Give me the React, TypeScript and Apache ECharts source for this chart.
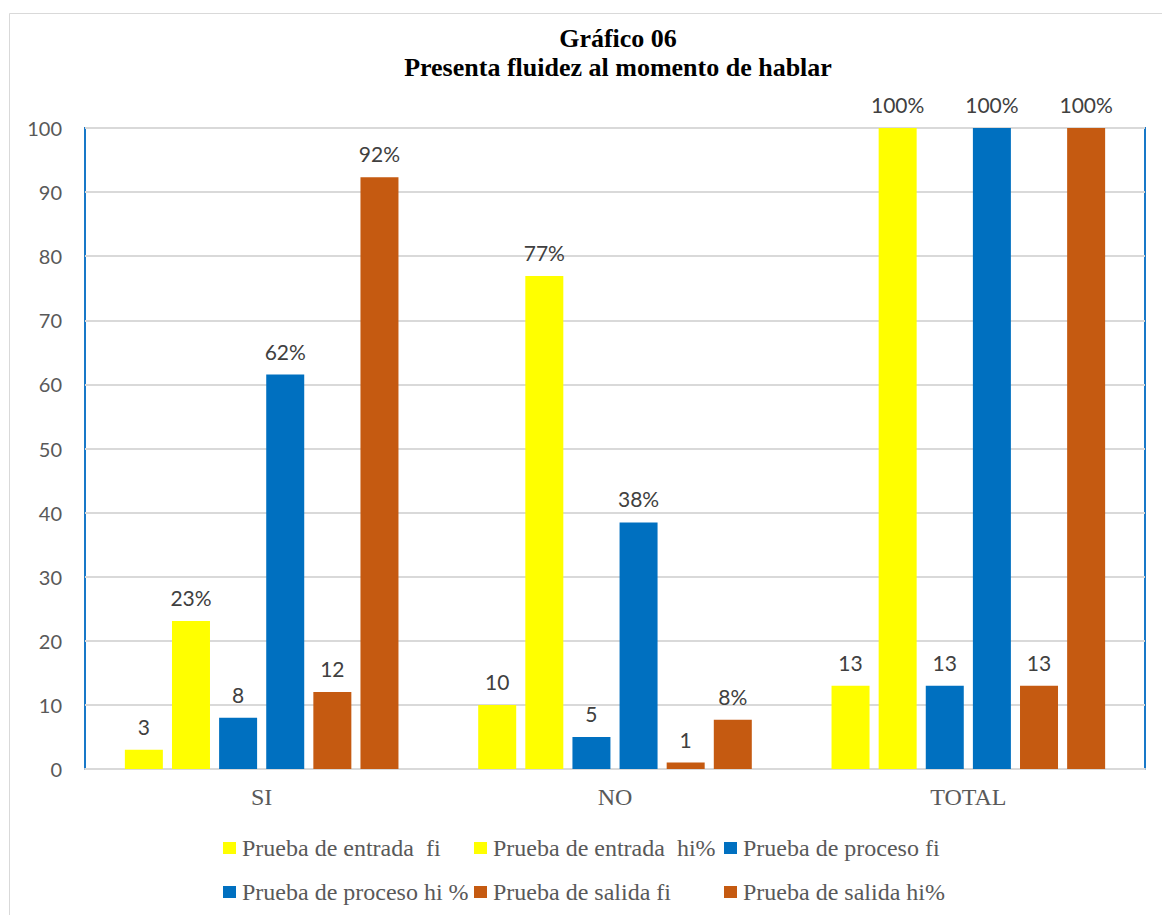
import React, { useEffect, useRef } from "react";
import * as echarts from "echarts";

const categories = ["SI", "NO", "TOTAL"];
const seriesNames = [
  "Prueba de entrada  fi",
  "Prueba de entrada  hi%",
  "Prueba de proceso fi",
  "Prueba de proceso hi %",
  "Prueba de salida fi",
  "Prueba de salida hi%",
];
const entradaFi = [3, 10, 13];
const entradaHi = [23.08, 76.92, 100];
const procesoFi = [8, 5, 13];
const procesoHi = [61.54, 38.46, 100];
const salidaFi = [12, 1, 13];
const salidaHi = [92.31, 7.69, 100];
const yTicks = [0, 10, 20, 30, 40, 50, 60, 70, 80, 90, 100];

const YELLOW = "#FFFF00";
const BLUE = "#0070C0";
const ORANGE = "#C55A11";

export default function App() {
  const ref = useRef<HTMLDivElement>(null);
  useEffect(() => {
    if (!ref.current) return;
    const chart = echarts.init(ref.current, null, { renderer: "svg" });
    const values = [entradaFi, entradaHi, procesoFi, procesoHi, salidaFi, salidaHi];
    const colors = [YELLOW, YELLOW, BLUE, BLUE, ORANGE, ORANGE];
    const isPct = [false, true, false, true, false, true];
    const labelFont = "Lato, 'Open Sans', sans-serif";
    const serif = "'Liberation Serif', 'Times New Roman', serif";
    const series = values.map((v, i) => ({
      name: seriesNames[i],
      type: "bar",
      data: v,
      barWidth: 38,
      barGap: "24%",
      itemStyle: { color: colors[i] },
      label: {
        show: true,
        position: "top",
        distance: 13,
        fontFamily: labelFont,
        fontSize: 21,
        color: "#404040",
        formatter: (p: any) => (isPct[i] ? Math.round(p.value) + "%" : String(p.value)),
      },
    }));
    const legendPos = [
      [223, 836],
      [474, 836],
      [724, 836],
      [223, 880],
      [474, 880],
      [724, 880],
    ];
    const legends = seriesNames.map((n, i) => ({
      data: [n],
      left: legendPos[i][0],
      top: legendPos[i][1],
      itemWidth: 13,
      itemHeight: 12,
      icon: "rect",
      textStyle: {
        fontFamily: serif,
        fontSize: 24,
        color: "#595959",
        padding: [0, 0, 0, 1],
      },
      selectedMode: false,
      padding: 0,
    }));
    chart.setOption({
      animation: false,
      backgroundColor: "#ffffff",
      graphic: [
        {
          type: "rect",
          shape: { x: 9.5, y: 13.5, width: 1170, height: 920 },
          style: { fill: "none", stroke: "#d9d9d9", lineWidth: 1 },
          silent: true,
          z: -10,
        },
        {
          type: "text",
          x: 618,
          y: 38,
          style: {
            text: "Gráfico 06",
            textAlign: "center",
            textVerticalAlign: "middle",
            fontFamily: serif,
            fontWeight: "bold",
            fontSize: 26,
            fill: "#000000",
          },
        },
        {
          type: "text",
          x: 618,
          y: 67,
          style: {
            text: "Presenta fluidez al momento de hablar",
            textAlign: "center",
            textVerticalAlign: "middle",
            fontFamily: serif,
            fontWeight: "bold",
            fontSize: 26,
            fill: "#000000",
          },
        },
      ],
      legend: legends,
      grid: {
        left: 85,
        right: 17,
        top: 128,
        bottom: 146,
        show: true,
        borderColor: "#1878C8",
        borderWidth: 2,
        backgroundColor: "transparent",
      },
      xAxis: {
        type: "category",
        data: categories,
        axisTick: { show: false },
        axisLine: { show: true, lineStyle: { color: "#d9d9d9", width: 2 } },
        axisLabel: {
          fontFamily: serif,
          fontSize: 24,
          color: "#595959",
          margin: 16,
        },
      },
      yAxis: {
        type: "value",
        min: yTicks[0],
        max: yTicks[yTicks.length - 1],
        interval: 10,
        axisLine: { show: false },
        axisTick: { show: false },
        splitLine: { lineStyle: { color: "#d9d9d9", width: 2 } },
        axisLabel: {
          fontFamily: labelFont,
          fontSize: 20,
          color: "#595959",
          margin: 23,
        },
      },
      series,
    });
    return () => chart.dispose();
  }, []);
  return (
    <div
      ref={ref}
      style={{ position: "absolute", left: 0, top: 0, width: 1162, height: 915 }}
    />
  );
}
